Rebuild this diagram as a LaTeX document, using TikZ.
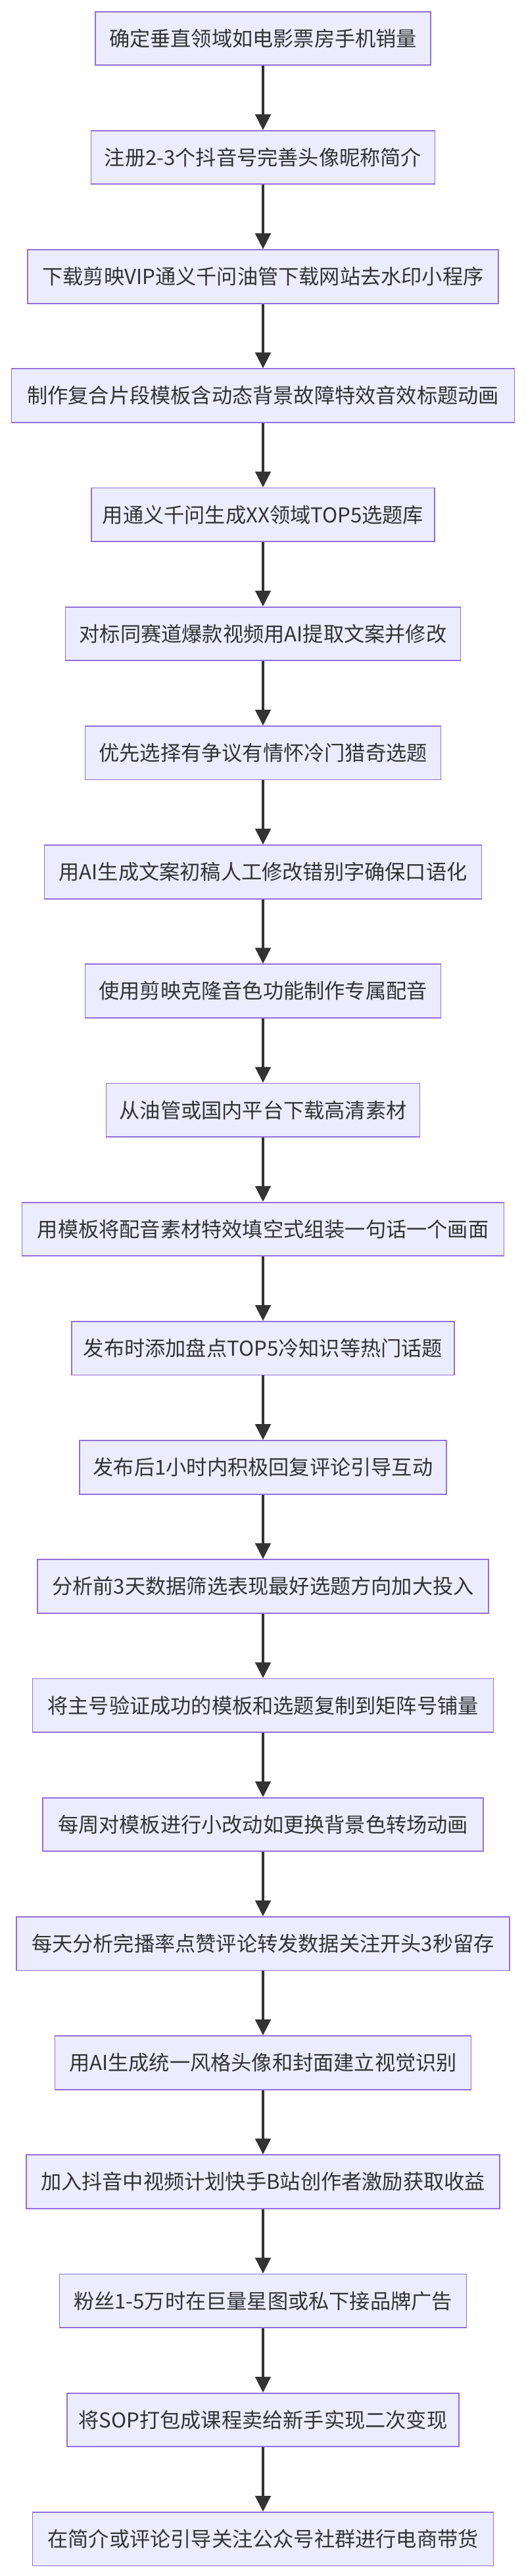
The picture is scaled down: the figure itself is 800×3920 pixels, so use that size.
\documentclass[tikz,border=0pt]{standalone}
\usepackage{fontspec}
\setmainfont{Noto Sans CJK SC}
\usetikzlibrary{arrows.meta}
\definecolor{boxfill}{HTML}{ECECFF}
\definecolor{boxline}{HTML}{9370DB}
\definecolor{ink}{HTML}{333333}
\begin{document}
\begin{tikzpicture}[x=1pt,y=-1pt,
  stepbox/.style={draw=boxline, fill=boxfill, line width=1.8pt, minimum height=81.5pt,
    inner sep=0pt, font=\fontsize{31.2}{36}\selectfont, text=ink},
  flow/.style={draw=ink, line width=3.6pt, -{Triangle[width=23.5pt,length=24pt]}}]
\useasboundingbox[fill=white] (0,0) rectangle (800,3920);
\node[stepbox, minimum width=510pt] (n1) at (400,58.45) {确定垂直领域如电影票房手机销量};
\node[stepbox, minimum width=523pt] (n2) at (400,239.65) {注册2-3个抖音号完善头像昵称简介};
\node[stepbox, minimum width=716pt] (n3) at (400,420.85) {下载剪映VIP通义千问油管下载网站去水印小程序};
\node[stepbox, minimum width=765pt] (n4) at (400,602.05) {制作复合片段模板含动态背景故障特效音效标题动画};
\node[stepbox, minimum width=522pt] (n5) at (400,783.25) {用通义千问生成XX领域TOP5选题库};
\node[stepbox, minimum width=601pt] (n6) at (400,964.45) {对标同赛道爆款视频用AI提取文案并修改};
\node[stepbox, minimum width=541pt] (n7) at (400,1145.65) {优先选择有争议有情怀冷门猎奇选题};
\node[stepbox, minimum width=665pt] (n8) at (400,1326.85) {用AI生成文案初稿人工修改错别字确保口语化};
\node[stepbox, minimum width=541pt] (n9) at (400,1508.05) {使用剪映克隆音色功能制作专属配音};
\node[stepbox, minimum width=477pt] (n10) at (400,1689.25) {从油管或国内平台下载高清素材};
\node[stepbox, minimum width=733pt] (n11) at (400,1870.45) {用模板将配音素材特效填空式组装一句话一个画面};
\node[stepbox, minimum width=582pt] (n12) at (400,2051.65) {发布时添加盘点TOP5冷知识等热门话题};
\node[stepbox, minimum width=558pt] (n13) at (400,2232.85) {发布后1小时内积极回复评论引导互动};
\node[stepbox, minimum width=686pt] (n14) at (400,2414.05) {分析前3天数据筛选表现最好选题方向加大投入};
\node[stepbox, minimum width=701pt] (n15) at (400,2595.25) {将主号验证成功的模板和选题复制到矩阵号铺量};
\node[stepbox, minimum width=670pt] (n16) at (400,2776.45) {每周对模板进行小改动如更换背景色转场动画};
\node[stepbox, minimum width=750pt] (n17) at (400,2957.65) {每天分析完播率点赞评论转发数据关注开头3秒留存};
\node[stepbox, minimum width=633pt] (n18) at (400,3138.85) {用AI生成统一风格头像和封面建立视觉识别};
\node[stepbox, minimum width=720pt] (n19) at (400,3320.05) {加入抖音中视频计划快手B站创作者激励获取收益};
\node[stepbox, minimum width=619pt] (n20) at (400,3501.25) {粉丝1-5万时在巨量星图或私下接品牌广告};
\node[stepbox, minimum width=596pt] (n21) at (400,3682.45) {将SOP打包成课程卖给新手实现二次变现};
\node[stepbox, minimum width=701pt] (n22) at (400,3863.65) {在简介或评论引导关注公众号社群进行电商带货};
\foreach \a/\b in {1/2,2/3,3/4,4/5,5/6,6/7,7/8,8/9,9/10,10/11,11/12,12/13,13/14,14/15,15/16,16/17,17/18,18/19,19/20,20/21,21/22}
  \draw[flow] (n\a) -- (n\b);
\end{tikzpicture}
\end{document}
